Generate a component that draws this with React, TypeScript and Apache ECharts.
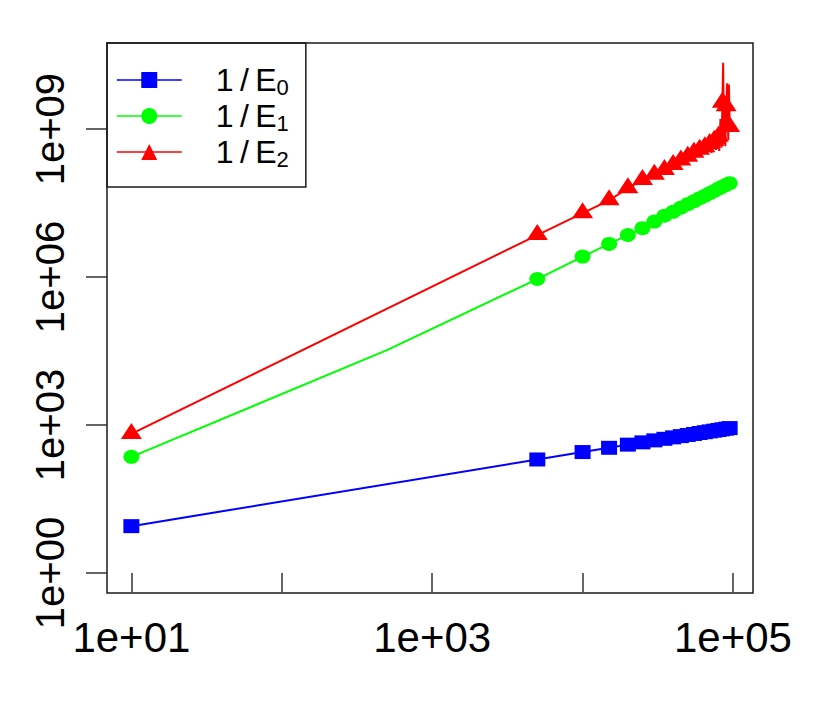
import React, { useEffect, useRef } from 'react';
import * as echarts from 'echarts';

// x positions of the marked points
const xValues = [10, 5000, 10000, 15000, 20000, 25000, 30000, 35000, 40000, 45000, 50000,
  55000, 60000, 65000, 70000, 75000, 80000, 85000, 90000, 95000];

// 1/E0 (blue squares)
const e0Values = [8.9, 200, 283, 345, 400, 445, 488, 525, 562, 595, 628,
  658, 688, 715, 742, 768, 793, 818, 842, 866];

// 1/E1 (green circles)
const e1Values = [226, 9.1e5, 2.6e6, 4.7e6, 7.1e6, 9.8e6, 1.33e7, 1.75e7, 2.1e7, 2.55e7, 3.0e7,
  3.45e7, 3.95e7, 4.45e7, 5.0e7, 5.55e7, 6.2e7, 6.8e7, 7.4e7, 8.0e7];
// unmarked line-only points of 1/E1
const e1ExtraX = [500];
const e1ExtraY = [33000];

// 1/E2 (red triangles)
const e2Values = [660, 7.1e6, 1.97e7, 3.6e7, 6.3e7, 9.3e7, 1.18e8, 1.48e8, 1.87e8, 2.3e8, 2.75e8,
  3.3e8, 3.8e8, 4.3e8, 5.0e8, 5.8e8, 7.0e8, 3.4e9, 2.9e9, 1.1e9];
// unmarked line-only points of 1/E2 (noisy tail)
const e2ExtraX = [72000, 77000, 81000, 82500, 84000, 86000, 87000, 88000, 89000, 91500, 93000, 94000];
const e2ExtraY = [3.3e8, 3.8e8, 3.6e8, 1.6e9, 4.2e8, 2.2e10, 5.0e8, 2.5e9, 4.5e8, 8.5e9, 6.0e8, 8.0e9];

const seriesNames = ['1/E0', '1/E1', '1/E2'];
const legendSubscripts = ['0', '1', '2'];
const seriesColors = ['#0000ff', '#00ff00', '#ff0000'];

// tick positions (powers of ten)
const xTickPowers = [1, 2, 3, 4, 5];
const xLabelPowers = [1, 3, 5];
const yTickPowers = [0, 3, 6, 9];

const X_MIN = 0.838;
const X_MAX = 5.133;
const Y_MIN = -0.406;
const Y_MAX = 10.745;

function buildData(xs: number[], ys: number[], exX: number[] = [], exY: number[] = []) {
  const pts: any[] = xs.map((x, i) => ({ value: [Math.log10(x), Math.log10(ys[i])] }));
  exX.forEach((x, i) => pts.push({ value: [Math.log10(x), Math.log10(exY[i])], symbol: 'none' }));
  pts.sort((a, b) => a.value[0] - b.value[0]);
  return pts;
}

function expLabel(v: number) {
  const p = Math.round(v);
  return '1e+' + (p < 10 ? '0' + p : String(p));
}

export default function App() {
  const ref = useRef<HTMLDivElement>(null);
  useEffect(() => {
    const chart = echarts.init(ref.current!, null, { renderer: 'svg' });
    const font = "'Liberation Sans', Arimo, Arial, sans-serif";
    chart.setOption({
      animation: false,
      backgroundColor: '#ffffff',
      grid: {
        left: 107, top: 43, width: 646, height: 550,
        show: true, borderColor: '#1a1a1a', borderWidth: 1.5, backgroundColor: 'transparent',
      },
      xAxis: {
        type: 'value', min: X_MIN, max: X_MAX,
        axisLine: { show: false },
        splitLine: { show: false },
        axisTick: { show: true, inside: false, length: 19, customValues: xTickPowers, lineStyle: { color: '#333', width: 1.5 } },
        axisLabel: { customValues: xLabelPowers, formatter: expLabel, fontSize: 42, fontFamily: font, color: '#000', margin: 23 },
      },
      yAxis: {
        type: 'value', min: Y_MIN, max: Y_MAX,
        axisLine: { show: false },
        splitLine: { show: false },
        axisTick: { show: true, inside: false, length: 21, customValues: yTickPowers, lineStyle: { color: '#333', width: 1.5 } },
        axisLabel: { customValues: yTickPowers, formatter: expLabel, rotate: 90, fontSize: 40, fontFamily: font, color: '#000', margin: 37 },
      },
      legend: {
        left: 107, top: 43, orient: 'vertical',
        padding: [19, 17, 17, 9], itemGap: 0, itemWidth: 65, itemHeight: 20,
        borderColor: '#1a1a1a', borderWidth: 1.5, backgroundColor: 'transparent',
        selectedMode: false,
        data: seriesNames,
        lineStyle: { width: 1.5 },
        formatter: (name: string) => {
          const i = seriesNames.indexOf(name);
          return '{n|1\u2009/\u2009E}{s|' + legendSubscripts[i] + '}';
        },
        textStyle: {
          fontSize: 32, lineHeight: 36, fontFamily: font,
          padding: [0, 0, 0, 29], color: '#000',
          rich: {
            n: { fontSize: 32, lineHeight: 36, fontFamily: font, color: '#000' },
            s: { fontSize: 22, lineHeight: 22, verticalAlign: 'bottom', fontFamily: font, color: '#000' },
          },
        },
      },
      series: [
        {
          name: seriesNames[0], type: 'line', data: buildData(xValues, e0Values),
          symbol: 'rect', symbolSize: [16, 14], showAllSymbol: true,
          lineStyle: { color: seriesColors[0], width: 2 }, itemStyle: { color: seriesColors[0] },
        },
        {
          name: seriesNames[1], type: 'line', data: buildData(xValues, e1Values, e1ExtraX, e1ExtraY),
          symbol: 'circle', symbolSize: [16, 14], showAllSymbol: true,
          lineStyle: { color: seriesColors[1], width: 2 }, itemStyle: { color: seriesColors[1] },
        },
        {
          name: seriesNames[2], type: 'line', data: buildData(xValues, e2Values, e2ExtraX, e2ExtraY),
          symbol: 'triangle', symbolSize: [21, 16], symbolOffset: [0, -3], showAllSymbol: true,
          lineStyle: { color: seriesColors[2], width: 2 }, itemStyle: { color: seriesColors[2] },
        },
      ],
    });
    return () => chart.dispose();
  }, []);
  return <div ref={ref} style={{ position: 'fixed', left: 0, top: 0, width: 830, height: 706 }} />;
}
